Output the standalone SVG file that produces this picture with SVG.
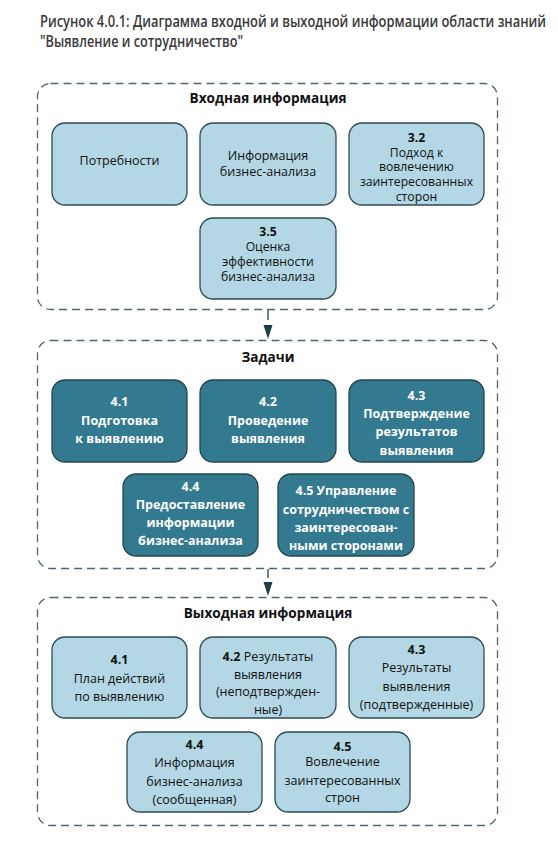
<svg xmlns="http://www.w3.org/2000/svg" width="558" height="842" viewBox="0 0 558 842">
<style>
.title{font-family:"Open Sans","Liberation Sans",sans-serif;font-weight:600;font-size:16.5px;fill:#3a3a3a}
.cont{fill:none;stroke:#4d6670;stroke-width:1.3;stroke-dasharray:8 5}
.hdr{font-family:"Open Sans","Liberation Sans",sans-serif;font-weight:700;font-size:13.6px;fill:#111;text-anchor:middle}
.lb{fill:#b3d7e5;stroke:#2e4a53;stroke-width:1.3}
.db{fill:#337a91;stroke:#24454f;stroke-width:1.3}
.lt{font-family:"Open Sans","Liberation Sans",sans-serif;font-size:12.5px;fill:#111;text-anchor:middle}
.sm{font-size:12.2px}
.dt{font-family:"Open Sans","Liberation Sans",sans-serif;font-weight:700;font-size:12.5px;fill:#fff;text-anchor:middle}
.b{font-weight:700}
.conn{stroke:#24454f;stroke-width:1.3;fill:none}
.ah{fill:#1f3f48}
</style>
<rect width="558" height="842" fill="#fff"/>
<g id="title">
<text class="title" x="40" y="27" textLength="506" lengthAdjust="spacingAndGlyphs">Рисунок 4.0.1:  Диаграмма входной и выходной информации области знаний</text>
<text class="title" x="40" y="47" textLength="203" lengthAdjust="spacingAndGlyphs">"Выявление и сотрудничество"</text>
</g>
<g id="input">
<rect class="cont" x="37.5" y="83.5" width="460" height="226" rx="13"/>
<text class="hdr" x="268" y="103">Входная информация</text>
</g>
<g id="in-needs"><rect class="lb" x="52" y="123" width="135" height="82" rx="13"/><text class="lt" x="119.5" y="165">Потребности</text></g>
<g id="in-bainfo"><rect class="lb" x="200" y="123" width="136" height="82" rx="13"/><text class="lt" x="268" y="159.5">Информация</text><text class="lt" x="268" y="176">бизнес-анализа</text></g>
<g id="in-3-2"><rect class="lb" x="349" y="123" width="135" height="82" rx="13"/><text class="lt sm" x="416.5" y="142"><tspan class="b">3.2</tspan></text><text class="lt sm" x="416.5" y="156.5">Подход к</text><text class="lt sm" x="416.5" y="171">вовлечению</text><text class="lt sm" x="416.5" y="186">заинтересованных</text><text class="lt sm" x="416.5" y="200.5">сторон</text></g>
<g id="in-3-5"><rect class="lb" x="200" y="218" width="136" height="81" rx="13"/><text class="lt sm" x="268" y="236"><tspan class="b">3.5</tspan></text><text class="lt sm" x="268" y="250.5">Оценка</text><text class="lt sm" x="268" y="266">эффективности</text><text class="lt sm" x="268" y="281">бизнес-анализа</text></g>
<g id="tasks">
<rect class="cont" x="37.5" y="340.5" width="460" height="228" rx="13"/>
<text class="hdr" x="268" y="362">Задачи</text>
</g>
<g id="t-4-1"><rect class="db" x="52" y="380" width="135" height="82" rx="13"/><text class="dt" x="119.5" y="406">4.1</text><text class="dt" x="119.5" y="424.5">Подготовка</text><text class="dt" x="119.5" y="442.5">к выявлению</text></g>
<g id="t-4-2"><rect class="db" x="200" y="380" width="136" height="82" rx="13"/><text class="dt" x="268" y="406">4.2</text><text class="dt" x="268" y="424.5">Проведение</text><text class="dt" x="268" y="442.5">выявления</text></g>
<g id="t-4-3"><rect class="db" x="349" y="380" width="135" height="82" rx="13"/><text class="dt" x="416.5" y="399.5">4.3</text><text class="dt" x="416.5" y="417.5">Подтверждение</text><text class="dt" x="416.5" y="436">результатов</text><text class="dt" x="416.5" y="454.5">выявления</text></g>
<g id="t-4-4"><rect class="db" x="123" y="474" width="135" height="82" rx="13"/><text class="dt" x="190.5" y="491">4.4</text><text class="dt" x="190.5" y="508.5">Предоставление</text><text class="dt" x="190.5" y="527">информации</text><text class="dt" x="190.5" y="545">бизнес-анализа</text></g>
<g id="t-4-5"><rect class="db" x="278" y="474" width="136" height="82" rx="13"/><text class="dt" x="346" y="495">4.5 Управление</text><text class="dt" x="346" y="513.5">сотрудничеством с</text><text class="dt" x="346" y="532">заинтересован-</text><text class="dt" x="346" y="549.5">ными сторонами</text></g>
<g id="output">
<rect class="cont" x="37.5" y="597.5" width="460" height="228" rx="13"/>
<text class="hdr" x="268" y="618">Выходная информация</text>
</g>
<g id="o-4-1"><rect class="lb" x="52" y="637" width="135" height="81" rx="13"/><text class="lt" x="119.5" y="663.5"><tspan class="b">4.1</tspan></text><text class="lt" x="119.5" y="682.5">План действий</text><text class="lt" x="119.5" y="700.5">по выявлению</text></g>
<g id="o-4-2"><rect class="lb" x="200" y="637" width="136" height="81" rx="13"/><text class="lt" x="268" y="661"><tspan class="b">4.2</tspan> Результаты</text><text class="lt" x="268" y="678.5">выявления</text><text class="lt" x="268" y="696">(неподтвержден-</text><text class="lt" x="268" y="713.5">ные)</text></g>
<g id="o-4-3"><rect class="lb" x="349" y="637" width="135" height="81" rx="13"/><text class="lt" x="416.5" y="653.5"><tspan class="b">4.3</tspan></text><text class="lt" x="416.5" y="672">Результаты</text><text class="lt" x="416.5" y="690.5">выявления</text><text class="lt" x="416.5" y="708.5">(подтвержденные)</text></g>
<g id="o-4-4"><rect class="lb" x="127" y="732" width="135" height="80" rx="13"/><text class="lt" x="194.5" y="748.5"><tspan class="b">4.4</tspan></text><text class="lt" x="194.5" y="767">Информация</text><text class="lt" x="194.5" y="785.5">бизнес-анализа</text><text class="lt" x="194.5" y="803.5">(сообщенная)</text></g>
<g id="o-4-5"><rect class="lb" x="275" y="732" width="135" height="80" rx="13"/><text class="lt" x="342.5" y="750.5"><tspan class="b">4.5</tspan></text><text class="lt" x="342.5" y="766">Вовлечение</text><text class="lt" x="342.5" y="784.5">заинтересованных</text><text class="lt" x="342.5" y="802">строн</text></g>
<g id="connectors">
<line class="conn" x1="268" y1="310" x2="268" y2="320"/>
<polygon class="ah" points="263.5,325 272.5,325 268,339"/>
<line class="conn" x1="268" y1="569" x2="268" y2="578"/>
<polygon class="ah" points="263.5,582 272.5,582 268,596"/>
</g>
</svg>
